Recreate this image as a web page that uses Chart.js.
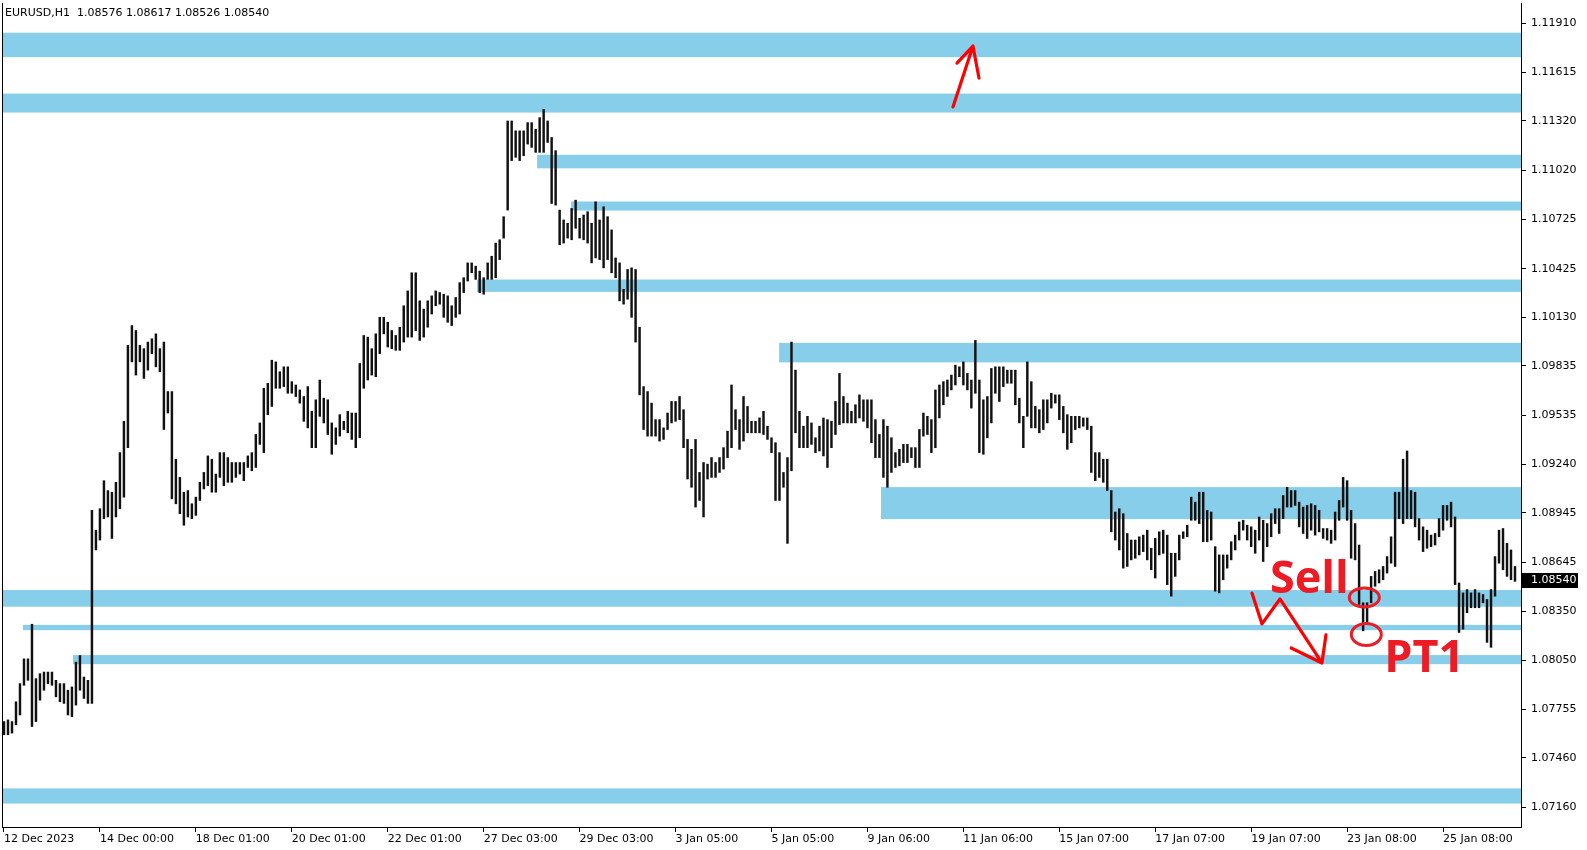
<!DOCTYPE html>
<html><head><meta charset="utf-8">
<script src="https://cdn.jsdelivr.net/npm/chart.js@4.4.1/dist/chart.umd.min.js"></script>
<style>html,body{margin:0;padding:0;background:#fff;overflow:hidden}canvas{display:block}</style>
</head><body>
<canvas id="c" width="1587" height="850"></canvas>
<script>
// ---- header / quote ----
const headerText = 'EURUSD,H1  1.08576 1.08617 1.08526 1.08540';
const lastPrice = 1.08540;
const lastPriceLabel = '1.08540';

// ---- axis tick labels ----
const tickLabelsX = ['12 Dec 2023','14 Dec 00:00','18 Dec 01:00','20 Dec 01:00','22 Dec 01:00','27 Dec 03:00','29 Dec 03:00','3 Jan 05:00','5 Jan 05:00','9 Jan 06:00','11 Jan 06:00','15 Jan 07:00','17 Jan 07:00','19 Jan 07:00','23 Jan 08:00','25 Jan 08:00'];
const tickEveryBars = 24; // one date label per 48 hourly bars = 24 two-hour slots
const tickLabelsY = ['1.11910','1.11615','1.11320','1.11020','1.10725','1.10425','1.10130','1.09835','1.09535','1.09240','1.08945','1.08645','1.08350','1.08050','1.07755','1.07460','1.07160'];
const yMin = 1.07041, yMax = 1.12035;

// ---- price bars (2-hour slots, low / high) ----
const lows = [
1.0760,1.0760,1.0761,1.0766,1.0772,1.0790,1.0793,1.0765,1.0768,1.0781,
1.0787,1.0791,1.0790,1.0783,1.0780,1.0779,1.0772,1.0771,1.0778,1.0787,
1.0782,1.0779,1.0779,1.0872,1.0878,1.0891,1.0892,1.0879,1.0892,1.0897,
1.0904,1.0934,1.0986,1.0978,1.0986,1.0976,1.0981,1.0991,1.0983,1.0980,
1.0945,1.0955,1.0903,1.0900,1.0894,1.0887,1.0892,1.0891,1.0893,1.0902,
1.0909,1.0911,1.0907,1.0907,1.0916,1.0911,1.0913,1.0913,1.0916,1.0918,
1.0914,1.0922,1.0920,1.0922,1.0936,1.0931,1.0954,1.0959,1.0970,1.0970,
1.0971,1.0967,1.0967,1.0965,1.0961,1.0950,1.0946,1.0934,1.0934,1.0953,
1.0949,1.0942,1.0930,1.0936,1.0941,1.0945,1.0943,1.0939,1.0934,1.0940,
1.0970,1.0975,1.0978,1.0977,1.0991,1.1003,1.0995,1.0994,1.0993,1.0993,
1.0998,1.1001,1.1001,1.1005,1.0999,1.1001,1.1007,1.1015,1.1020,1.1021,
1.1013,1.1010,1.1008,1.1013,1.1015,1.1028,1.1035,1.1040,1.1036,1.1028,
1.1027,1.1036,1.1036,1.1037,1.1048,1.1061,1.1078,1.1108,1.1110,1.1108,
1.1111,1.1118,1.1116,1.1113,1.1113,1.1113,1.1119,1.1082,1.1081,1.1057,
1.1058,1.1061,1.1060,1.1067,1.1061,1.1060,1.1058,1.1046,1.1049,1.1048,
1.1043,1.1048,1.1040,1.1037,1.1023,1.1021,1.1024,1.1013,1.0998,1.0966,
1.0945,1.0941,1.0941,1.0941,1.0938,1.0939,1.0945,1.0949,1.0950,1.0951,
1.0934,1.0915,1.0910,1.0898,1.0902,1.0892,1.0915,1.0916,1.0916,1.0919,
1.0921,1.0928,1.0934,1.0945,1.0933,1.0938,1.0943,1.0943,1.0943,1.0943,
1.0942,1.0939,1.0931,1.0902,1.0902,1.0910,1.0876,1.0920,1.0943,1.0934,
1.0934,1.0934,1.0936,1.0931,1.0932,1.0929,1.0922,1.0934,1.0942,1.0948,
1.0949,1.0949,1.0949,1.0949,1.0952,1.0950,1.0946,1.0937,1.0928,1.0928,
1.0916,1.0910,1.0919,1.0922,1.0923,1.0925,1.0925,1.0928,1.0922,1.0922,
1.0941,1.0942,1.0931,1.0934,1.0952,1.0960,1.0965,1.0969,1.0972,1.0977,
1.0972,1.0969,1.0958,1.0967,1.0931,1.0930,1.0940,1.0949,1.0967,1.0962,
1.0971,1.0973,1.0973,1.0960,1.0949,1.0934,1.0953,1.0946,1.0946,1.0943,
1.0945,1.0949,1.0958,1.0961,1.0951,1.0943,1.0933,1.0937,1.0945,1.0946,
1.0947,1.0945,1.0919,1.0914,1.0916,1.0913,1.0908,1.0883,1.0878,1.0872,
1.0861,1.0862,1.0866,1.0867,1.0869,1.0871,1.0866,1.0860,1.0855,1.0869,
1.0870,1.0851,1.0844,1.0856,1.0866,1.0879,1.0880,1.0890,1.0890,1.0888,
1.0877,1.0877,1.0878,1.0847,1.0846,1.0854,1.0861,1.0866,1.0872,1.0878,
1.0884,1.0878,1.0874,1.0870,1.0878,1.0865,1.0874,1.0880,1.0888,1.0882,
1.0891,1.0898,1.0898,1.0899,1.0886,1.0882,1.0879,1.0884,1.0881,1.0883,
1.0879,1.0878,1.0876,1.0878,1.0890,1.0898,1.0890,1.0867,1.0866,1.0839,
1.0823,1.0828,1.0840,1.0850,1.0852,1.0854,1.0858,1.0864,1.0862,1.0891,
1.0888,1.0891,1.0891,1.0886,1.0878,1.0871,1.0873,1.0874,1.0875,1.0880,
1.0884,1.0890,1.0886,1.0851,1.0822,1.0824,1.0834,1.0837,1.0837,1.0837,
1.0840,1.0816,1.0813,1.0844,1.0864,1.0860,1.0856,1.0854,1.0853
];
const highs = [
1.0768,1.0769,1.0768,1.0780,1.0791,1.0806,1.0806,1.0827,1.0794,1.0797,
1.0798,1.0798,1.0798,1.0793,1.0791,1.0791,1.0787,1.0789,1.0804,1.0808,
1.0795,1.0793,1.0896,1.0884,1.0897,1.0914,1.0908,1.0907,1.0913,1.0931,
1.0950,1.0996,1.1008,1.1005,1.0996,1.0994,1.0998,1.1000,1.1003,1.0994,
1.0998,1.0968,1.0968,1.0927,1.0916,1.0907,1.0908,1.0900,1.0904,1.0913,
1.0919,1.0929,1.0927,1.0918,1.0931,1.0931,1.0928,1.0925,1.0925,1.0925,
1.0925,1.0929,1.0931,1.0942,1.0949,1.0970,1.0973,1.0987,1.0986,1.0980,
1.0983,1.0983,1.0974,1.0972,1.0969,1.0965,1.0971,1.0956,1.0963,1.0975,
1.0964,1.0963,1.0949,1.0946,1.0954,1.0950,1.0956,1.0955,1.0955,1.0985,
1.1002,1.1001,1.0994,1.1003,1.1013,1.1013,1.1010,1.1005,1.1002,1.1007,
1.1020,1.1029,1.1040,1.1040,1.1023,1.1018,1.1023,1.1026,1.1029,1.1028,
1.1027,1.1026,1.1020,1.1025,1.1034,1.1037,1.1046,1.1046,1.1044,1.1041,
1.1037,1.1046,1.1050,1.1058,1.1060,1.1074,1.1132,1.1132,1.1126,1.1126,
1.1126,1.1131,1.1131,1.1127,1.1134,1.1139,1.1132,1.1122,1.1114,1.1078,
1.1072,1.1070,1.1079,1.1084,1.1073,1.1075,1.1077,1.1070,1.1083,1.1072,
1.1080,1.1074,1.1066,1.1049,1.1046,1.1030,1.1042,1.1043,1.1042,1.1007,
1.0971,1.0968,1.0961,1.0951,1.0951,1.0946,1.0955,1.0962,1.0962,1.0965,
1.0957,1.0939,1.0933,1.0939,1.0919,1.0925,1.0924,1.0928,1.0925,1.0928,
1.0934,1.0944,1.0972,1.0957,1.0951,1.0965,1.0959,1.0950,1.0950,1.0952,
1.0956,1.0947,1.0940,1.0937,1.0931,1.0919,1.0928,1.0998,1.0981,1.0956,
1.0947,1.0953,1.0949,1.0940,1.0947,1.0952,1.0951,1.0950,1.0962,1.0979,
1.0965,1.0961,1.0956,1.0960,1.0966,1.0963,1.0963,1.0963,1.0951,1.0942,
1.0951,1.0947,1.0940,1.0931,1.0933,1.0936,1.0936,1.0934,1.0934,1.0945,
1.0955,1.0953,1.0951,1.0969,1.0972,1.0974,1.0975,1.0978,1.0984,1.0983,
1.0986,1.0979,1.0975,1.0999,1.0975,1.0963,1.0965,1.0982,1.0983,1.0983,
1.0983,1.0981,1.0981,1.0981,1.0964,1.0953,1.0986,1.0974,1.0959,1.0957,
1.0963,1.0963,1.0967,1.0966,1.0966,1.0959,1.0954,1.0953,1.0953,1.0953,
1.0952,1.0952,1.0947,1.0931,1.0931,1.0927,1.0927,1.0908,1.0895,1.0897,
1.0894,1.0882,1.0878,1.0878,1.0880,1.0881,1.0884,1.0873,1.0879,1.0883,
1.0884,1.0881,1.0870,1.0870,1.0881,1.0883,1.0887,1.0904,1.0901,1.0907,
1.0907,1.0896,1.0895,1.0874,1.0869,1.0869,1.0869,1.0877,1.0881,1.0889,
1.0890,1.0887,1.0886,1.0884,1.0892,1.0890,1.0888,1.0894,1.0897,1.0897,
1.0905,1.0910,1.0908,1.0908,1.0901,1.0898,1.0899,1.0900,1.0899,1.0896,
1.0885,1.0885,1.0884,1.0895,1.0902,1.0916,1.0914,1.0896,1.0888,1.0875,
1.0840,1.0840,1.0856,1.0859,1.0860,1.0862,1.0868,1.0880,1.0907,1.0907,
1.0927,1.0932,1.0908,1.0907,1.0891,1.0886,1.0884,1.0881,1.0882,1.0891,
1.0899,1.0899,1.0901,1.0892,1.0852,1.0846,1.0848,1.0846,1.0848,1.0846,
1.0845,1.0842,1.0848,1.0868,1.0884,1.0885,1.0876,1.0872,1.0862
];
const slotCount = 380; // 379 bars + one empty slot at the right edge
const categories = Array.from({length: slotCount}, (_, i) => i);

// ---- support / resistance zones (price top, price bottom, start slot; null = from left edge) ----
const zoneTop    = [1.11855, 1.11486, 1.11115, 1.10832, 1.10359, 1.09975, 1.09101, 1.08477, 1.08266, 1.08083, 1.07275];
const zoneBottom = [1.11707, 1.11371, 1.11033, 1.10777, 1.10284, 1.09857, 1.08907, 1.08376, 1.08234, 1.08028, 1.07183];
const zoneStart  = [null, null, 133.35, 141.86, 118.34, 193.9, 219.4, null, 4.75, 17.26, null];

// ---- hand-drawn annotations (slot, price) ----
const upArrowShaft = [[237.4, 1.11405], [242.4, 1.11774]];
const upArrowHeads = [[238.4, 1.11671], [243.9, 1.11580]];
const zigzagPath   = [[312.2, 1.08459], [314.7, 1.08272], [319.2, 1.08423], [329.7, 1.08035]];
const zigzagHeads  = [[322.0, 1.08126], [330.7, 1.08205]];
const circleCenters = [[340.3, 1.08432], [340.8, 1.08208]];
const circleRadii   = [[15, 9.5], [15, 11]];
const noteTexts = ['Sell', 'PT1'];
const notePos   = [[316.7, 1.08459], [345.3, 1.07981]];

Chart.defaults.font.family = 'DejaVu Sans';
Chart.defaults.color = '#000';

const overlay = {
  id: 'overlay',
  beforeDatasetsDraw(chart) {
    const {ctx, chartArea: a, scales: {x, y}} = chart;
    ctx.save();
    ctx.fillStyle = '#87CEEB';
    for (let i = 0; i < zoneTop.length; i++) {
      const x0 = zoneStart[i] === null ? a.left : Math.max(a.left, x.getPixelForValue(zoneStart[i]));
      const y0 = y.getPixelForValue(zoneTop[i]);
      const y1 = y.getPixelForValue(zoneBottom[i]);
      ctx.fillRect(x0, y0, a.right - x0, y1 - y0);
    }
    ctx.restore();
  },
  afterDatasetsDraw(chart) {
    const {ctx, scales: {x, y}} = chart;
    const P = (p) => [x.getPixelForValue(p[0]), y.getPixelForValue(p[1])];
    ctx.save();
    ctx.lineCap = 'round';
    ctx.lineJoin = 'round';
    ctx.strokeStyle = '#ff0000';
    ctx.lineWidth = 3.2;
    let a = P(upArrowShaft[0]), b = P(upArrowShaft[1]);
    ctx.beginPath(); ctx.moveTo(a[0], a[1]); ctx.lineTo(b[0], b[1]);
    upArrowHeads.forEach(h => { const q = P(h); ctx.moveTo(b[0], b[1]); ctx.lineTo(q[0], q[1]); });
    ctx.stroke();
    ctx.beginPath();
    zigzagPath.forEach((p, i) => { const q = P(p); if (i === 0) ctx.moveTo(q[0], q[1]); else ctx.lineTo(q[0], q[1]); });
    const tip = P(zigzagPath[zigzagPath.length - 1]);
    zigzagHeads.forEach(h => { const q = P(h); ctx.moveTo(tip[0], tip[1]); ctx.lineTo(q[0], q[1]); });
    ctx.stroke();
    ctx.strokeStyle = '#ed1c24';
    ctx.lineWidth = 3;
    circleCenters.forEach((c, i) => {
      const q = P(c);
      ctx.beginPath(); ctx.ellipse(q[0], q[1], circleRadii[i][0], circleRadii[i][1], 0, 0, Math.PI * 2); ctx.stroke();
    });
    ctx.fillStyle = '#ed1c24';
    ctx.font = 'bold 45px "Open Sans"';
    ctx.textBaseline = 'alphabetic';
    ctx.textAlign = 'left';
    noteTexts.forEach((t, i) => { const q = P(notePos[i]); ctx.fillText(t, q[0], q[1]); });
    ctx.restore();
  },
  afterDraw(chart) {
    const {ctx, chartArea: a, scales: {y}} = chart;
    ctx.save();
    ctx.fillStyle = '#000';
    ctx.fillRect(a.left, a.top, 1, a.bottom - a.top);
    ctx.font = '11px "DejaVu Sans"';
    ctx.textBaseline = 'middle';
    ctx.textAlign = 'left';
    ctx.fillText(headerText, 5, 13);
    const py = y.getPixelForValue(lastPrice);
    ctx.fillStyle = '#000';
    ctx.fillRect(a.right + 1, Math.round(py) - 7, 56, 15);
    ctx.fillStyle = '#fff';
    ctx.fillText(lastPriceLabel, a.right + 10, Math.round(py) + 0.5);
    ctx.restore();
  }
};

new Chart(document.getElementById('c'), {
  type: 'bar',
  data: {
    labels: categories,
    datasets: [{
      data: lows.map((l, i) => [l, highs[i]]),
      backgroundColor: '#111',
      borderWidth: 0,
      barThickness: 1.8
    }]
  },
  options: {
    responsive: false,
    animation: false,
    devicePixelRatio: 1,
    layout: {padding: {left: 2, top: 3, right: 0, bottom: 0}},
    plugins: {legend: {display: false}, tooltip: {enabled: false}, title: {display: false}},
    scales: {
      x: {
        type: 'category',
        offset: true,
        afterBuildTicks: (s) => { s.ticks = s.ticks.filter(t => t.value % tickEveryBars === 0 && tickLabelsX[t.value / tickEveryBars]); },
        grid: {display: true, drawOnChartArea: false, drawTicks: true, tickLength: 5, color: '#000', offset: false},
        border: {display: true, color: '#000', width: 1},
        ticks: {
          autoSkip: false, maxRotation: 0, minRotation: 0, align: 'start', padding: 1, color: '#000',
          font: {family: 'DejaVu Sans', size: 11},
          callback: (v) => tickLabelsX[v / tickEveryBars]
        },
        afterFit: (s) => { s.height = 23; s.paddingLeft = 0; s.paddingRight = 0; }
      },
      y: {
        position: 'right',
        min: yMin, max: yMax,
        afterBuildTicks: (s) => { s.ticks = tickLabelsY.map(t => ({value: parseFloat(t)})); },
        grid: {drawOnChartArea: false, drawTicks: true, tickLength: 5, color: '#000'},
        border: {display: true, color: '#000', width: 1},
        ticks: {padding: 5, color: '#000', font: {family: 'DejaVu Sans', size: 11}, callback: (v, i) => tickLabelsY[i]},
        afterFit: (s) => { s.width = 66; s.paddingTop = 0; s.paddingBottom = 0; }
      }
    }
  },
  plugins: [overlay]
});
</script>
</body></html>
